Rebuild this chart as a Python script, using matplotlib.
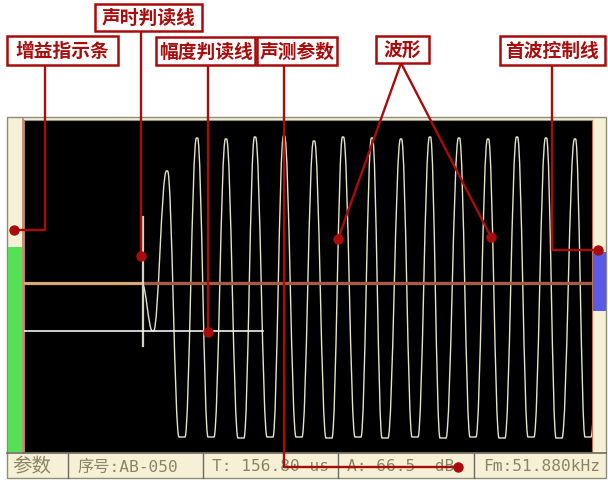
import matplotlib
matplotlib.use("Agg")
import matplotlib.pyplot as plt
from matplotlib.patches import Rectangle, PathPatch
from matplotlib.path import Path

plt.rcParams['font.family'] = ['Noto Sans CJK SC', 'DejaVu Sans']

W, H = 608, 481

# waveform on the instrument screen: column = pixel column from the screen's left edge,
# amplitude = pixels above the baseline
onset_col = 118
peak_cols = [143, 173, 202, 231, 260, 290, 319, 348, 377, 406, 435, 464, 493, 522, 551, 580]
peak_amps = [112, 145, 144, 146, 147, 142, 146, 145, 144, 146, 145, 144, 146, 145, 144, 145]
trough_cols = [129, 158, 187, 217, 246, 275, 305, 334, 361, 391, 419, 449, 478, 507, 535, 564]
trough_amps = [-48, -154, -154, -155, -154, -154, -155, -154, -155, -154, -155, -154, -155, -154, -155, -154]

time_col = 119          # 声时判读线
time_span = (-63, 66)
amp_level = -48         # 幅度判读线
amp_end_col = 239

status_cells = ["参数", "序号:AB-050", "T: 156.80 us", "A: 66.5  dB", "Fm:51.880kHz"]

RED = '#a80c0c'
CREAM = '#f6f0d6'
TXT = '#8a8466'

fig = plt.figure(figsize=(W / 100, H / 100), dpi=100)
fig.patch.set_facecolor('white')

# background layer: instrument frame, gain bar, status bar (pixel coords)
bg = fig.add_axes([0, 0, 1, 1], zorder=0)
bg.set_xlim(0, W)
bg.set_ylim(H, 0)
bg.axis('off')
bg.add_patch(Rectangle((7, 118), 599, 361, fc=CREAM, ec='#8c8c7c', lw=1))
bg.add_patch(Rectangle((8, 248), 14, 205, fc='#55e055', ec='none'))
bg.plot([23, 23], [120, 454], color='#b08060', lw=1.2)
bg.add_patch(Rectangle((593, 253), 13, 59, fc='#5a5ae6', ec='none'))
bg.plot([7, 606], [454, 454], color='#6c6c5c', lw=1.2)
cell_edges = [7, 68, 203, 338, 474, 606]
for x in cell_edges[1:-1]:
    bg.plot([x, x], [454, 479], color='#6c6c5c', lw=1)
for i, label in enumerate(status_cells):
    fs = 14 if i == 0 else 11.7
    bg.text(cell_edges[i] + (5 if i == 0 else 9), 467, label, fontsize=fs, color=TXT,
            va='center', ha='left', family=['DejaVu Sans Mono', 'Noto Sans CJK SC'])

# screen with the received waveform
scr = fig.add_axes([24 / W, (H - 453) / H, 568 / W, 332 / H], zorder=1)
scr.set_facecolor('black')
scr.set_xlim(0, 568)
scr.set_ylim(-169, 163)
scr.set_xticks([])
scr.set_yticks([])
for side, c in [('left', '#b08060'), ('right', '#c07050'), ('top', '#909080'), ('bottom', '#6c6c5c')]:
    scr.spines[side].set_color(c)

# smooth swings between the extrema (flat tangents at each turn, clipped bottoms)
extrema = sorted(list(zip(peak_cols, peak_amps)) + list(zip(trough_cols, trough_amps)))
verts = [(0, 0), (onset_col, 0)]
codes = [Path.MOVETO, Path.LINETO]
k = 0.38
for c, a in extrema:
    half = 3 if a < -150 else 0.6
    x0, y0 = verts[-1]
    x1 = c - half
    dx = x1 - x0
    verts += [(x0 + k * dx, y0), (x1 - k * dx, a), (x1, a), (c + half, a)]
    codes += [Path.CURVE4, Path.CURVE4, Path.CURVE4, Path.LINETO]
scr.add_patch(PathPatch(Path(verts, codes), fill=False, ec='#e4e4c8', lw=1.0, zorder=2))

scr.axhline(0, color='#a65a48', lw=2.4, zorder=3)
scr.plot([0, onset_col], [0, 0], color='#d8b07a', lw=2.0, zorder=4)
scr.plot([time_col, time_col], time_span, color='#d4d4c4', lw=1.6, zorder=5)
scr.plot([0, amp_end_col], [amp_level, amp_level], color='#f2f2f2', lw=1.2, zorder=5)

# callouts
ov = fig.add_axes([0, 0, 1, 1], zorder=2)
ov.set_xlim(0, W)
ov.set_ylim(H, 0)
ov.axis('off')
ov.patch.set_alpha(0)

leaders = [
    [(45, 66), (45, 231), (14, 231)],
    [(141, 32), (141, 257)],
    [(208, 66), (208, 333)],
    [(284, 66), (284, 468), (458, 468)],
    [(401, 64), (338, 240)],
    [(401, 64), (491, 238)],
    [(552, 66), (552, 251), (598, 251)],
]
for pts in leaders:
    px, py = zip(*pts)
    ov.plot(px, py, color=RED, lw=1.7, solid_capstyle='butt')
    ov.plot(px[-1], py[-1], 'o', color=RED, ms=6.5)

boxes = [
    ("增益指示条", 7, 37, 111, 29),
    ("声时判读线", 95, 5, 107, 27),
    ("幅度判读线", 156, 38, 99, 28),
    ("声测参数", 257, 38, 80, 28),
    ("波形", 376, 37, 53, 27),
    ("首波控制线", 500, 37, 105, 29),
]
for label, x, y, w, h in boxes:
    ov.add_patch(Rectangle((x, y), w, h, fc='white', ec=RED, lw=1.8, zorder=5))
    ov.text(x + w / 2, y + h / 2, label, fontsize=13.5, fontweight='bold', color=RED,
            ha='center', va='center', zorder=6)

fig.savefig('out.png', dpi=100)
